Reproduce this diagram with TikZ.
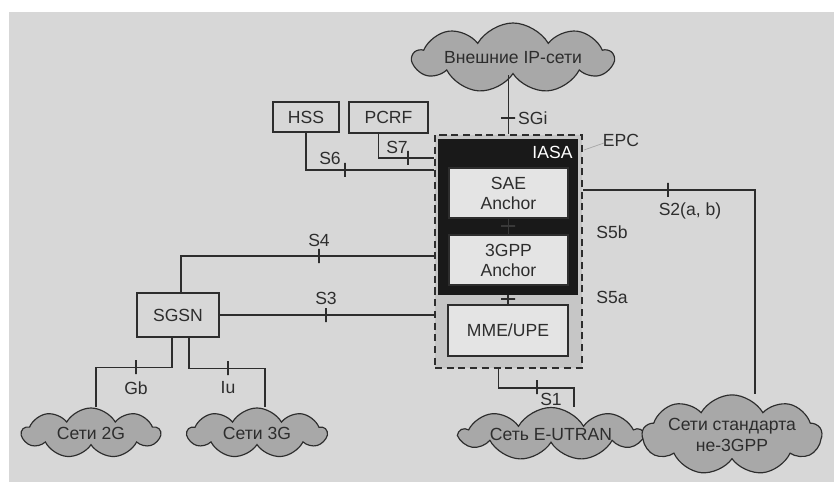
\documentclass[tikz,border=0pt]{standalone}
\usepackage{fontspec}
\setmainfont{Liberation Sans}
\usetikzlibrary{shapes.symbols,positioning}
\definecolor{bggray}{RGB}{215,215,215}
\definecolor{cloudgray}{RGB}{168,168,168}
\definecolor{epcgray}{RGB}{198,198,198}
\definecolor{boxgray}{RGB}{228,228,228}
\definecolor{inkgray}{RGB}{45,45,45}

\begin{document}
\begin{tikzpicture}[x=0.03cm,y=-0.03cm,
  font=\fontsize{15}{17}\selectfont, color=inkgray,
  link/.style={draw=inkgray, line width=1.1pt},
  box/.style={draw=inkgray, line width=1.2pt, inner sep=0pt, align=center},
  net/.style={cloud, cloud puffs=9, cloud puff arc=120, cloud ignores aspect,
              draw=inkgray, line width=1pt, fill=cloudgray, inner sep=0pt, align=center},
  tickv/.style={draw=inkgray, line width=1.1pt, inner sep=0pt, minimum width=0pt, minimum height=0.42cm},
  tickh/.style={draw=inkgray, line width=1.1pt, inner sep=0pt, minimum height=0pt, minimum width=0.42cm}]
 \useasboundingbox (0,0) rectangle (834,482);
 \fill[white] (0,0) rectangle (834,482);
 \fill[bggray] (9,12) rectangle (834,482);

 % EPC core
 \node[box, dash pattern=on 6pt off 4pt, line width=1.6pt, fill=epcgray,
       minimum width=4.41cm, minimum height=6.99cm] (epc) at (508.5,251.5) {};
 \node[box, fill=black!90, draw=black!90, minimum width=4.14cm, minimum height=4.62cm] (iasa) at (508,217) {};
 \node[anchor=north east, text=white, inner sep=0pt] at ([xshift=-0.15cm,yshift=-0.2cm]iasa.north east) {IASA};
 \node[box, fill=boxgray, minimum width=3.57cm, minimum height=1.5cm] (sae) at (508.5,193) {SAE\\Anchor};
 \node[box, fill=boxgray, minimum width=3.57cm, minimum height=1.5cm] (gpp) at (508.5,260) {3GPP\\Anchor};
 \node[box, fill=boxgray, minimum width=3.6cm, minimum height=1.53cm] (mme) at (508,330.5) {MME/UPE};
 \node (epclbl) at (621,140) {EPC};
 \draw[gray!70, line width=0.6pt] (584,150) -- (604,143);
 \node at (612,232) {S5b};
 \node at (612,297) {S5a};

 % other elements
 \node[box, minimum width=1.98cm, minimum height=0.9cm] (hss) at (306,117) {HSS};
 \node[box, minimum width=2.37cm, minimum height=0.93cm] (pcrf) at (388.5,117.5) {PCRF};
 \node[box, minimum width=2.46cm, minimum height=1.32cm] (sgsn) at (178,315) {SGSN};

 % networks
 \node[net, minimum width=6cm, minimum height=2.1cm] (ip) at (513,58) {Внешние IP-сети};
 \node[net, minimum width=4.14cm, minimum height=1.5cm] (g2) at (91,433) {Сети 2G};
 \node[net, minimum width=4.17cm, minimum height=1.5cm] (g3) at (257,433) {Сети 3G};
 \node[net, minimum width=5.46cm, minimum height=1.59cm] (eutran) at (551,434) {Сеть E-UTRAN};
 \node[net, minimum width=4.95cm, minimum height=1.92cm] (n3gpp) at (732,435) {Сети стандарта\\[1pt]не-3GPP};

 % corner points
 \coordinate (s7c) at (0,158);
 \coordinate (s6c) at (0,170);
 \coordinate (s2c) at (0,190);
 \coordinate (s4c) at (0,256);

 % interfaces
 \draw[link] (epc.north) -- (epc.north |- ip.south);
 \node[tickh] at (508,118) {};
 \node[anchor=west] at (514,118) {SGi};

 \draw[link] ([xshift=-0.29cm]pcrf.south) |- (epc.west |- s7c);
 \node[tickv] at (408,158) {};
 \node at (397,147) {S7};

 \draw[link] (hss.south) |- (epc.west |- s6c);
 \node[tickv] at (345,170) {};
 \node at (330,158) {S6};

 \draw[link] (epc.east |- s2c) -| ([xshift=0.69cm]n3gpp.north);
 \node[tickv] at (668,190) {};
 \node at (690,211) {S2(a, b)};

 \draw[link] ([xshift=0.09cm]sgsn.north) |- (epc.west |- s4c);
 \node[tickv] at (319,256) {};
 \node at (319,240) {S4};

 \draw[link] (sgsn.east) -- (epc.west |- sgsn.east);
 \node[tickv] at (326,315) {};
 \node at (326,298) {S3};

 \draw[link] ([xshift=-0.18cm]sgsn.south) -- ++(0,30) -| ([xshift=0.15cm]g2.north);
 \node[tickv] at (136,367) {};
 \node at (136,388) {Gb};

 \draw[link] ([xshift=0.33cm]sgsn.south) -- ++(0,31) -| ([xshift=0.24cm]g3.north);
 \node[tickv] at (228,368) {};
 \node at (228,388) {Iu};

 \draw[link] ([xshift=-0.29cm]epc.south) -- ++(0,19) -| ([xshift=0.69cm]eutran.north);
 \node[tickv] at (537,387) {};
 \node at (551,399) {S1};

 % inside the core
 \draw[link, draw=gray!45!black] (sae.south) -- (gpp.north);
 \node[tickh, draw=gray!45!black] at (508,226) {};
 \draw[link] (iasa.south) -- (mme.north);
 \node[tickh] at (508,299) {};
\end{tikzpicture}
\end{document}
